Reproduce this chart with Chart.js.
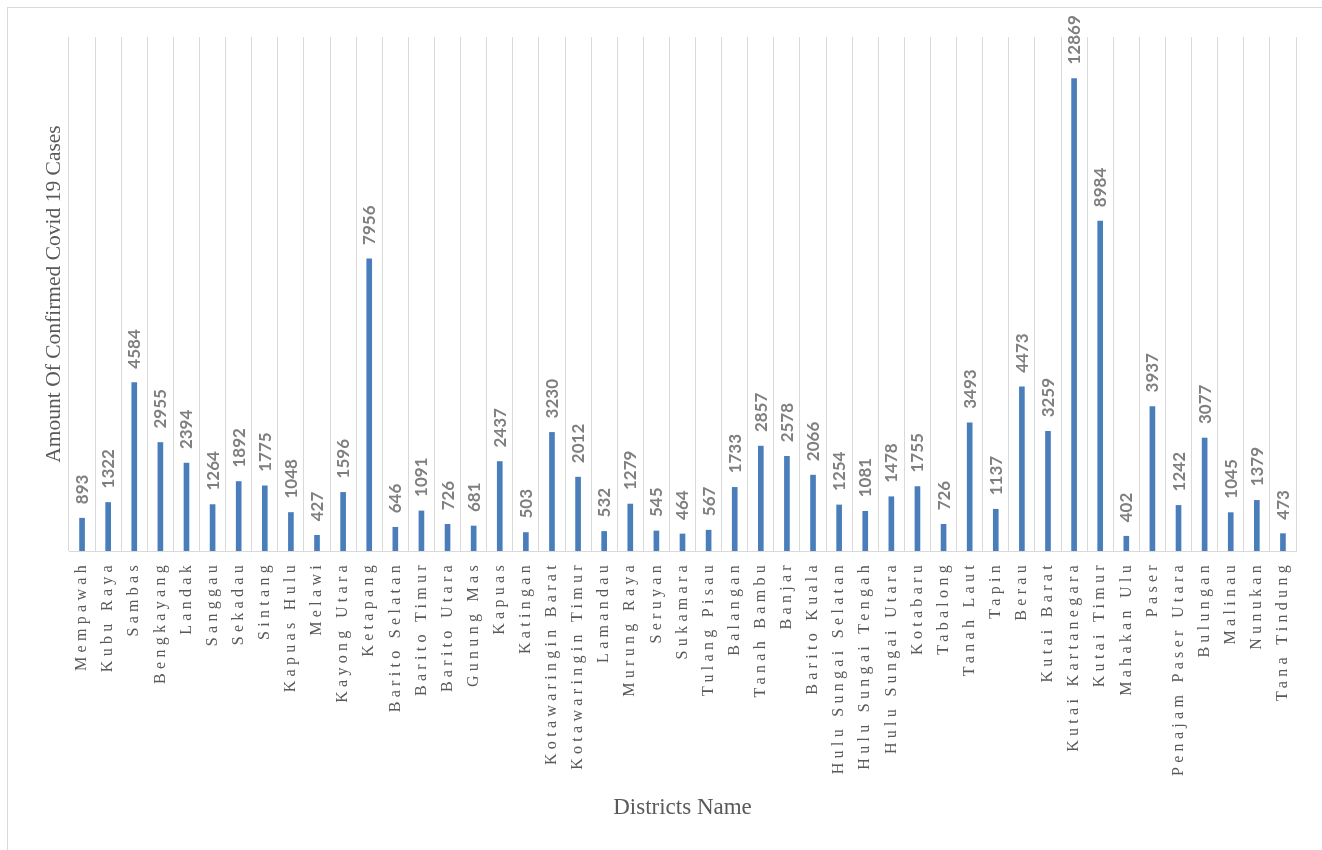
<!DOCTYPE html>
<html>
<head>
<meta charset="utf-8">
<script src="https://cdn.jsdelivr.net/npm/chart.js@4/dist/chart.umd.min.js"></script>
<style>
  html, body { margin: 0; padding: 0; background: #ffffff; }
  #wrap { position: relative; width: 1322px; height: 850px; overflow: hidden; }
  #frame { position: absolute; left: 7px; top: 7px; width: 1400px; height: 900px;
           border-left: 1px solid #d9d9d9; border-top: 1px solid #d9d9d9; box-sizing: border-box; }
  canvas { position: absolute; left: 0; top: 0; }
</style>
</head>
<body>
<div id="wrap">
  <div id="frame"></div>
  <canvas id="c" width="1322" height="850"></canvas>
</div>
<script>
const districts = [
  "Mempawah", "Kubu Raya", "Sambas", "Bengkayang", "Landak", "Sanggau", "Sekadau", "Sintang",
  "Kapuas Hulu", "Melawi", "Kayong Utara", "Ketapang", "Barito Selatan", "Barito Timur",
  "Barito Utara", "Gunung Mas", "Kapuas", "Katingan", "Kotawaringin Barat", "Kotawaringin Timur",
  "Lamandau", "Murung Raya", "Seruyan", "Sukamara", "Tulang Pisau", "Balangan", "Tanah Bambu",
  "Banjar", "Barito Kuala", "Hulu Sungai Selatan", "Hulu Sungai Tengah", "Hulu Sungai Utara",
  "Kotabaru", "Tabalong", "Tanah Laut", "Tapin", "Berau", "Kutai Barat", "Kutai Kartanegara",
  "Kutai Timur", "Mahakan Ulu", "Paser", "Penajam Paser Utara", "Bulungan", "Malinau",
  "Nunukan", "Tana Tindung"
];
const confirmedCases = [
  893, 1322, 4584, 2955, 2394, 1264, 1892, 1775, 1048, 427, 1596, 7956, 646, 1091, 726, 681,
  2437, 503, 3230, 2012, 532, 1279, 545, 464, 567, 1733, 2857, 2578, 2066, 1254, 1081, 1478,
  1755, 726, 3493, 1137, 4473, 3259, 12869, 8984, 402, 3937, 1242, 3077, 1045, 1379, 473
];
const yAxisMax = 14000;
const yTitle = "Amount Of Confirmed Covid 19 Cases";
const xTitle = "Districts Name";

const valueLabels = {
  id: 'valueLabels',
  afterDatasetsDraw(chart) {
    const ctx = chart.ctx;
    const meta = chart.getDatasetMeta(0);
    ctx.save();
    ctx.font = 'bold 17px Lato';
    ctx.fillStyle = '#7f7f7f';
    ctx.textAlign = 'left';
    ctx.textBaseline = 'middle';
    meta.data.forEach((bar, i) => {
      ctx.save();
      ctx.translate(bar.x + 0.5, bar.y - 14);
      ctx.rotate(-Math.PI / 2);
      ctx.fillText(String(chart.data.datasets[0].data[i]), 0, 0);
      ctx.restore();
    });
    ctx.restore();
  }
};

const spacedTicks = {
  id: 'spacedTicks',
  beforeDraw(chart) {
    const s = chart.scales.x;
    if (s && !s._spacedWrapped) {
      const orig = s.drawLabels;
      s.drawLabels = function (area) {
        const ctx = this.ctx;
        ctx.save();
        ctx.letterSpacing = '4.3px';
        orig.call(this, area);
        ctx.restore();
      };
      s._spacedWrapped = true;
    }
  }
};

new Chart(document.getElementById('c'), {
  type: 'bar',
  data: {
    labels: districts,
    datasets: [{
      data: confirmedCases,
      backgroundColor: '#4a7ebb',
      borderWidth: 0,
      barThickness: 5
    }]
  },
  options: {
    responsive: false,
    animation: false,
    events: [],
    layout: { padding: { left: 0, right: 26, top: 37, bottom: 0 } },
    plugins: { legend: { display: false }, tooltip: { enabled: false } },
    scales: {
      x: {
        grid: { color: '#d9d9d9', lineWidth: 1, offset: true, drawTicks: false },
        border: { display: true, color: '#d9d9d9', width: 1 },
        ticks: {
          autoSkip: false, maxRotation: 90, minRotation: 90, padding: 10,
          color: '#595959', font: { family: 'Liberation Serif', size: 16 }
        },
        title: {
          display: true, text: xTitle, color: '#595959',
          font: { family: 'Liberation Serif', size: 23 },
          padding: { top: 0, bottom: 28 }
        },
        afterFit(scale) { scale.height = 299; }
      },
      y: {
        min: 0, max: yAxisMax,
        grid: { display: false },
        border: { display: false },
        ticks: { display: false },
        title: {
          display: true, text: yTitle, color: '#595959',
          font: { family: 'Liberation Serif', size: 21.5 },
          padding: { top: 41, bottom: 0 }
        },
        afterFit(scale) { scale.width = 69; }
      }
    }
  },
  plugins: [spacedTicks, valueLabels]
});
</script>
</body>
</html>
